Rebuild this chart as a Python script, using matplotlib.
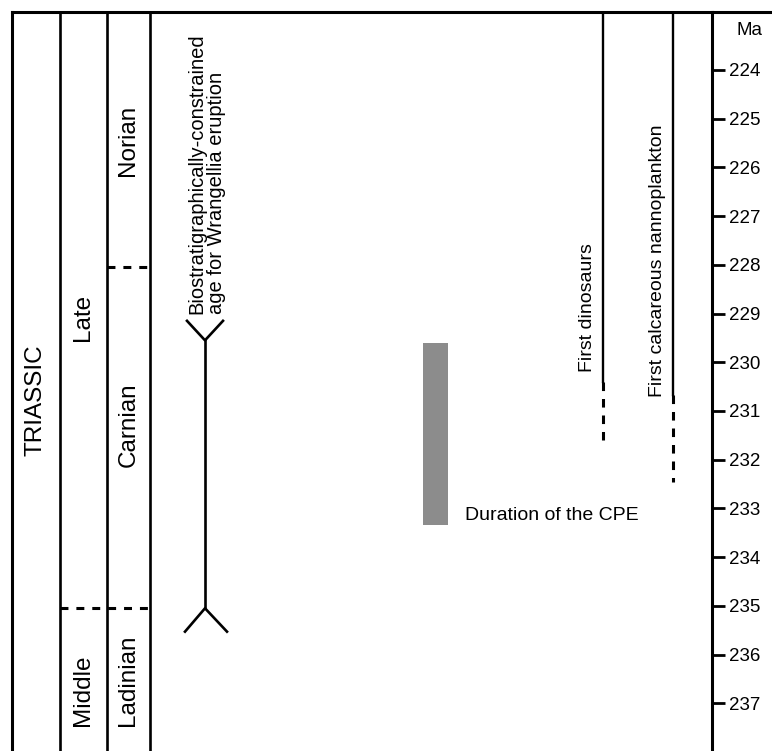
import matplotlib
matplotlib.use("Agg")
import matplotlib.pyplot as plt

plt.rcParams['font.family'] = ['Liberation Sans', 'DejaVu Sans']

# age scale (Ma)
age_ticks = list(range(224, 238))
age_top, age_bottom = 222.81, 237.98

# stage / epoch boundaries
norian_carnian = 228.05
carnian_ladinian = 235.05

# biostratigraphic range for the Wrangellia eruption
wrangellia = [229.55, 235.05]

# Carnian Pluvial Episode
cpe = [229.6, 233.35]

# first appearances: [solid end, dashed (uncertain) end]
dinosaurs = [230.41, 231.6]
nannoplankton = [230.67, 232.46]

# column x positions (layout in pixel-like units)
X_LEFT, X_EPOCH, X_STAGE, X_COL, X_AXIS = 12, 60, 107, 150, 712


def main():
    fig = plt.figure(figsize=(7.72, 7.51), dpi=100)
    ax = fig.add_axes([X_LEFT / 772, 0, (X_AXIS - X_LEFT) / 772, 739 / 751])
    ax.set_xlim(X_LEFT, X_AXIS)
    ax.set_ylim(age_bottom, age_top)

    for side in ('top', 'left', 'right'):
        ax.spines[side].set_linewidth(2.2)
    ax.spines['bottom'].set_visible(False)

    # age axis on the right
    ax.set_xticks([])
    ax.yaxis.tick_right()
    ax.set_yticks(age_ticks)
    ax.set_yticklabels([str(a) for a in age_ticks], fontsize=13.5)
    ax.tick_params(axis='y', direction='out', length=9, width=2, pad=3)
    ax.text(X_AXIS + 38, 223.2, 'Ma', fontsize=13.5, ha='center', va='center', clip_on=False)

    # top border carries on past the axis
    ax.plot([X_AXIS, 775], [age_top, age_top], color='black', lw=2.2, clip_on=False,
            solid_capstyle='butt')

    # column dividers
    for x in (X_EPOCH, X_STAGE, X_COL):
        ax.plot([x, x], [age_top, age_bottom], color='black', lw=1.9)

    # dashed boundaries
    ax.plot([X_STAGE, X_COL], [norian_carnian] * 2, color='black', lw=2.2,
            dashes=(2.6, 2.6))
    ax.plot([X_EPOCH, X_COL], [carnian_ladinian] * 2, color='black', lw=2.2,
            dashes=(2.6, 2.6))

    # column labels
    big = dict(fontsize=17.5, rotation=90, ha='center', va='center')
    ax.text(36, 230.78, 'TRIASSIC', **big)
    ax.text(83, 229.09, 'Late', **big)
    ax.text(83, 236.73, 'Middle', **big)
    ax.text(128.5, 225.44, 'Norian', **big)
    ax.text(128.5, 231.29, 'Carnian', **big)
    ax.text(128.5, 236.53, 'Ladinian', **big)

    # Wrangellia range with forked ends
    xw = 205
    ax.plot([xw, xw], wrangellia, color='black', lw=1.9)
    ax.plot([xw - 18, xw, xw + 18], [wrangellia[0] - 0.4, wrangellia[0], wrangellia[0] - 0.4],
            color='black', lw=1.9)
    ax.plot([xw - 20, xw, xw + 22], [wrangellia[1] + 0.48, wrangellia[1], wrangellia[1] + 0.48],
            color='black', lw=1.9)
    ax.text(207, 229.0, 'Biostratigraphically-constrained\nage for Wrangellia eruption',
            fontsize=14.5, rotation=90, ha='center', va='bottom', multialignment='left',
            linespacing=1.05)

    # CPE duration bar
    ax.bar(435.5, cpe[1] - cpe[0], width=25, bottom=cpe[0], color='#8c8c8c')
    ax.text(465, 233.14, 'Duration of the CPE', fontsize=14, ha='left', va='center')

    # first appearance lines
    for x, rng, label, ytxt in ((603, dinosaurs, 'First dinosaurs', 230.2),
                                (673, nannoplankton, 'First calcareous nannoplankton', 230.72)):
        ax.plot([x, x], [age_top, rng[0]], color='black', lw=1.7)
        ax.plot([x, x], [rng[0], rng[1]], color='black', lw=2.2, dashes=(2.8, 2.6))
        ax.text(x - 16, ytxt, label, fontsize=14, rotation=90, ha='center', va='bottom')

    fig.savefig('out.png', dpi=100)


if __name__ == "__main__":
    main()
